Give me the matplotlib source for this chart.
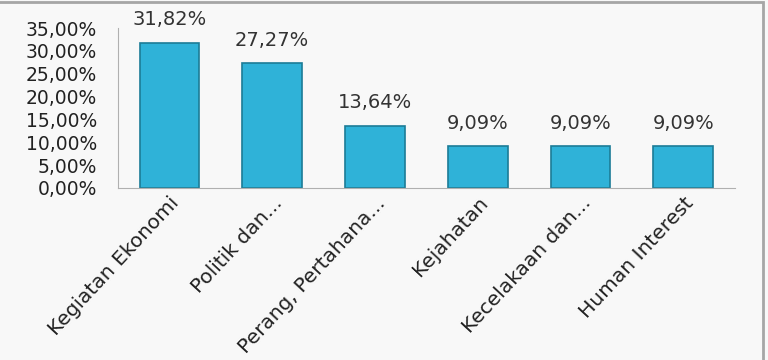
import matplotlib.pyplot as plt
from matplotlib.patches import Rectangle

# data
categories = ['Kegiatan Ekonomi', 'Politik dan...', 'Perang, Pertahana...',
              'Kejahatan', 'Kecelakaan dan...', 'Human Interest']
values = [31.82, 27.27, 13.64, 9.09, 9.09, 9.09]
yticks = [0, 5, 10, 15, 20, 25, 30, 35]

plt.rcParams['font.family'] = ['DejaVu Sans']

fig = plt.figure(figsize=(7.68, 3.6), dpi=100, facecolor='#f8f8f8')
fig.patches.append(Rectangle((-0.01, -0.01), 1.003, 1.005, transform=fig.transFigure,
                             fill=False, edgecolor='#a6a6a6', linewidth=2))

ax = fig.add_axes([0.1536, 0.478, 0.803, 0.444])
ax.set_facecolor('#f8f8f8')

x = range(len(categories))
ax.bar(x, values, width=0.58, color='#2fb2d8', edgecolor='#1c7c97', linewidth=1.2)

# labels above bars
for i, v in enumerate(values):
    ax.text(i, v + 5.0, f'{v:.2f}%'.replace('.', ','), ha='center', va='center',
            fontsize=14, color='#333333', clip_on=False)

ax.set_ylim(0, 35)
ax.set_xlim(-0.5, len(categories) - 0.5)
ax.set_yticks(yticks)
ax.set_yticklabels([f'{t:.2f}%'.replace('.', ',') for t in yticks], fontsize=13.5, color='#222222')
ax.set_xticks(list(x))
ax.set_xticklabels(categories, rotation=47, ha='right', rotation_mode='anchor',
                   fontsize=14.5, color='#222222')
ax.tick_params(axis='y', length=0, pad=15)
ax.tick_params(axis='x', length=0, pad=4)

for s in ['top', 'right']:
    ax.spines[s].set_visible(False)
for s in ['left', 'bottom']:
    ax.spines[s].set_color('#b0b0b0')

fig.savefig('out.png', dpi=100, facecolor=fig.get_facecolor())
